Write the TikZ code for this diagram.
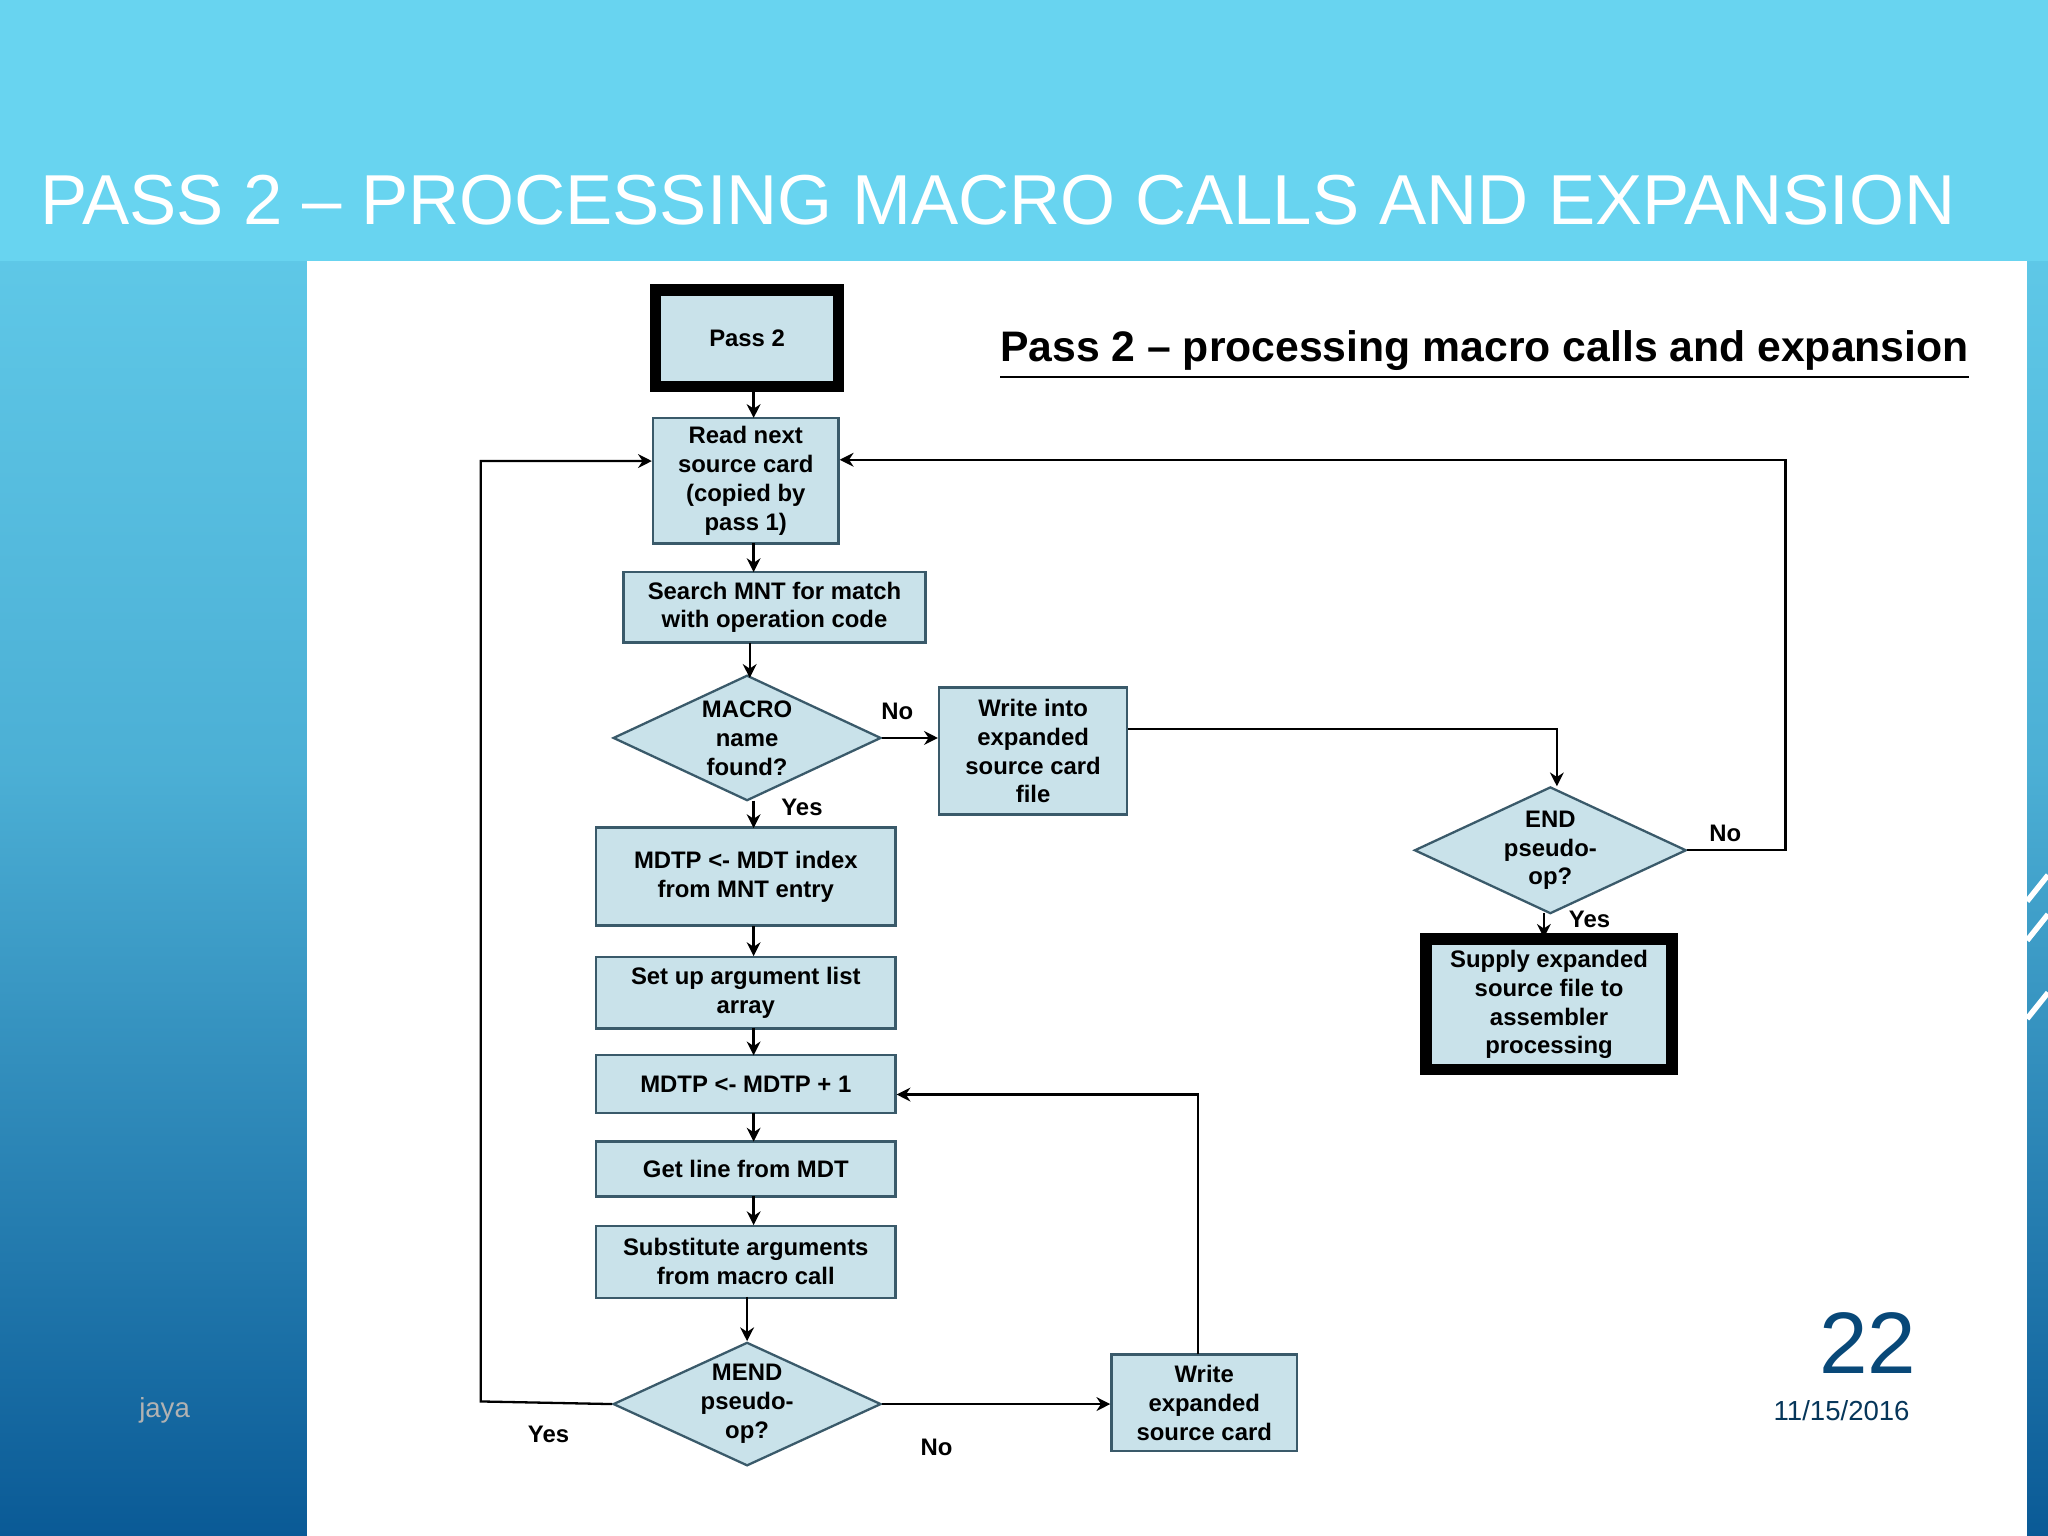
\documentclass[tikz,border=0pt]{standalone}
\usepackage{fontspec}
\setmainfont{Liberation Sans}
\usetikzlibrary{shapes.geometric,arrows.meta}
\definecolor{bxfill}{HTML}{C9E2EA}
\definecolor{bxline}{HTML}{3A5A6A}
\definecolor{topc}{HTML}{68D4F0}
\definecolor{botc}{HTML}{0A5A96}
\begin{document}
\begin{tikzpicture}[x=0.01cm,y=-0.01cm,
  bx/.style={draw=bxline,fill=bxfill,line width=0.5pt,align=center,font=\fontsize{5.2}{6.3}\selectfont\bfseries,inner sep=1pt},
  dm/.style={bx,diamond,aspect=2.1,inner sep=0pt},
  arr/.style={-{Stealth[length=3pt,width=3pt]},line width=0.5pt},
  lb/.style={font=\fontsize{5.2}{6}\selectfont\bfseries}]
\useasboundingbox (0,0) rectangle (1568,1176);
\shade[top color=topc,bottom color=botc,middle color=topc!70!botc] (0,0) rectangle (1568,1176);
\fill[topc] (0,0) rectangle (1568,200);
\fill[white] (235,200) rectangle (1552,1176);
\node[anchor=base west,white,font=\fontsize{15.4}{17}\selectfont,inner sep=0] at (30,172) {PASS 2 – PROCESSING MACRO CALLS AND EXPANSION};
\node[anchor=base west,font=\fontsize{9.3}{11}\selectfont\bfseries,inner sep=0] (hd) at (765,277) {\underline{Pass 2 – processing macro calls and expansion}};
% nodes
\node[bx,line width=2.5pt,draw=black,minimum width=1.40cm,minimum height=0.74cm] (p2) at (572,259) {Pass 2};
\node[bx,minimum width=1.42cm,minimum height=0.96cm] (rd) at (571,368) {Read next\\source card\\(copied by\\pass 1)};
\node[bx,minimum width=2.31cm,minimum height=0.54cm] (sr) at (593,465) {Search MNT for match\\with operation code};
\node[dm,minimum width=2.05cm,minimum height=0.96cm] (d1) at (572,565) {MACRO\\name\\found?};
\node[bx,minimum width=1.44cm,minimum height=0.97cm] (w1) at (791,575) {Write into\\expanded\\source card\\file};
\node[bx,minimum width=2.29cm,minimum height=0.75cm] (md) at (571,671) {MDTP <- MDT index\\from MNT entry};
\node[bx,minimum width=2.29cm,minimum height=0.55cm] (su) at (571,760) {Set up argument list\\array};
\node[bx,minimum width=2.29cm,minimum height=0.44cm] (in) at (571,830) {MDTP <- MDTP + 1};
\node[bx,minimum width=2.29cm,minimum height=0.42cm] (gl) at (571,895) {Get line from MDT};
\node[bx,minimum width=2.29cm,minimum height=0.55cm] (sb) at (571,966) {Substitute arguments\\from macro call};
\node[dm,minimum width=2.05cm,minimum height=0.94cm] (d2) at (572,1075) {MEND\\pseudo-\\op?};
\node[bx,minimum width=1.42cm,minimum height=0.74cm] (w2) at (922,1074) {Write\\expanded\\source card};
\node[dm,minimum width=2.08cm,minimum height=0.97cm] (d3) at (1187,651) {END\\pseudo-\\op?};
\node[bx,line width=2.5pt,draw=black,minimum width=1.88cm,minimum height=1.00cm] (sp) at (1186,769) {Supply expanded\\source file to\\assembler\\processing};
% arrows
\draw[arr] (577,298) -- (577,320);
\draw[arr] (577,416) -- (577,438);
\draw[arr] (574,492) -- (574,519);
\draw[arr] (577,613) -- (577,634);
\draw[arr] (577,709) -- (577,732);
\draw[arr] (577,787) -- (577,808);
\draw[arr] (577,852) -- (577,874);
\draw[arr] (577,916) -- (577,938);
\draw[arr] (572,993) -- (d2.north);
\draw[arr] (d1.east) -- (w1.west |- d1.east);
\draw[arr] (w1.east |- 0,558) -- (1192,558) -- (1192,602);
\draw[arr] (d3.east) -- (1367,651) -- (1367,352) -- (rd.east |- 0,352);
\draw[arr] (1182,699) -- (1182,718);
\draw[arr] (d2.west) -- (368,1073) -- (368,353) -- (rd.west |- 0,353);
\draw[arr] (d2.east) -- (w2.west |- d2.east);
\draw[arr] (917,1037) -- (917,838) -- (in.east |- 0,838);
\node[lb] at (614,618) {Yes};
\node[lb] at (687,545) {No};
\node[lb] at (1321,638) {No};
\node[lb] at (1217,704) {Yes};
\node[lb] at (420,1098) {Yes};
\node[lb] at (717,1108) {No};
\node[font=\fontsize{19}{21}\selectfont,text=botc!80!black] at (1430,1028) {22};
\node[font=\fontsize{6}{7}\selectfont,text=botc!60!black] at (1410,1080) {11/15/2016};
\node[font=\fontsize{6}{7}\selectfont,text=gray!60] at (126,1080) {jaya};
\draw[white,line width=1.2pt] (1552,690) -- (1568,670) (1552,720) -- (1568,700) (1552,780) -- (1568,760);
\end{tikzpicture}
\end{document}
